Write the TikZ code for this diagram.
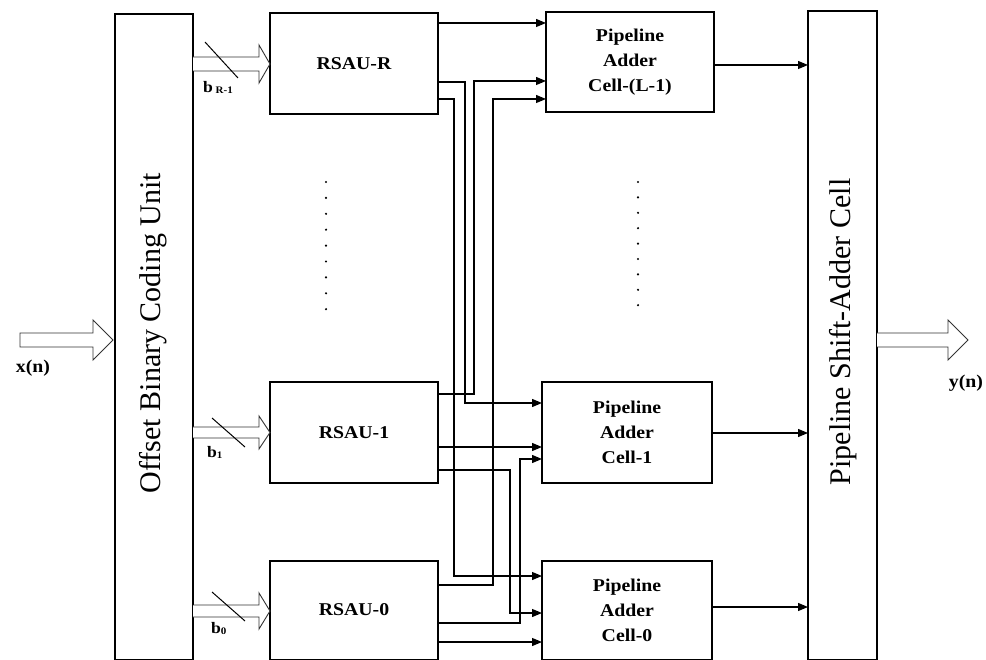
\documentclass[tikz,border=0pt]{standalone}
\usepackage{fontspec}
\setmainfont{Liberation Serif}
\newfontfamily\wideserif[FakeStretch=1.1]{Liberation Serif}
\usetikzlibrary{arrows.meta}
\begin{document}
\begin{tikzpicture}[x=1pt,y=-1pt,
  blk/.style={draw, line width=1.2pt, inner sep=0pt, outer sep=0pt},
  wire/.style={line width=1.2pt},
  arr/.style={wire, -{Triangle[length=10pt,width=8pt]}},
  fat/.style={line width=0.9pt, draw=black!80, fill=white, line join=miter},
  slash/.style={line width=1pt},
  lbl/.style={font=\wideserif\bfseries\fontsize{18}{25}\selectfont, align=center},
  big/.style={font=\fontsize{30}{30}\selectfont, inner sep=0pt},
  io/.style={font=\wideserif\bfseries\fontsize{18}{18}\selectfont, inner sep=0pt},
  bl/.style={font=\wideserif\bfseries\fontsize{16}{16}\selectfont, inner sep=0pt},
]
\useasboundingbox (0,0) rectangle (986,660);
\clip (0,0) rectangle (986,660);

% blocks
\node[blk, minimum width=78, minimum height=646] (obcu) at (154,337) {};
\node[big, rotate=90] (obcut) at (153,333) {Offset Binary Coding Unit};
\node[blk, minimum width=69, minimum height=649] (psac) at (842.5,335.5) {};
\node[big, rotate=90] (psact) at (843,332) {Pipeline Shift-Adder Cell};

\node[blk, lbl, minimum width=168, minimum height=101] (rsauR) at (354,63.5) {RSAU-R};
\node[blk, lbl, minimum width=168, minimum height=101] (rsau1) at (354,432.5) {RSAU-1};
\node[blk, lbl, minimum width=168, minimum height=99] (rsau0) at (354,610.5) {\raisebox{1pt}{RSAU-0}};

\node[blk, lbl, minimum width=168, minimum height=100] (pacL) at (630,62) {Pipeline\\Adder\\Cell-(L-1)};
\node[blk, lbl, minimum width=170, minimum height=101] (pac1) at (627,432.5) {Pipeline\\Adder\\Cell-1};
\node[blk, lbl, minimum width=170, minimum height=99] (pac0) at (627,610.5) {Pipeline\\Adder\\Cell-0};

% dotted columns
\foreach \i in {0,...,8} {
  \fill (326,182+15.9*\i) circle (1.2);
  \fill (638,182+15.4*\i) circle (1.2);
}

% wide input arrows with bus slashes
\draw[fat] (obcu.east |- 0,57) -- (259,57) -- (259,45) -- (rsauR.west |- 0,64) -- (259,83) -- (259,71) -- (obcu.east |- 0,71);
\draw[slash] (205,42) -- (238,78);
\node[bl, anchor=west] (bR) at (203,87) {b\,\raisebox{-1pt}{\fontsize{10}{10}\selectfont R-1}};

\draw[fat] (obcu.east |- 0,427) -- (259,427) -- (259,416) -- (rsau1.west |- 0,432.5) -- (259,449) -- (259,438) -- (obcu.east |- 0,438);
\draw[slash] (212,418) -- (245,447);
\node[bl, anchor=west] (b1) at (207,452) {b\raisebox{-1pt}{\fontsize{10}{10}\selectfont 1}};

\draw[fat] (obcu.east |- 0,605) -- (259,605) -- (259,593) -- (rsau0.west |- 0,611) -- (259,629) -- (259,617) -- (obcu.east |- 0,617);
\draw[slash] (212,592) -- (245,621);
\node[bl, anchor=west] (b0) at (211,628) {b\raisebox{-1pt}{\fontsize{10}{10}\selectfont 0}};

% x(n) and y(n)
\draw[fat] (20,333) -- (93,333) -- (93,320) -- (113,340) -- (93,360) -- (93,347) -- (20,347) -- cycle;
\node[io] (xn) at (33,368) {x(n)};
\draw[fat] (psac.east |- 0,333) -- (948,333) -- (948,320) -- (968,340) -- (948,360) -- (948,347) -- (psac.east |- 0,347);
\node[io] (yn) at (966,383) {y(n)};

% RSAU-R outputs
\draw[arr] (rsauR.east |- 0,23) -- (pacL.west |- 0,23);
\draw[arr] (rsauR.east |- 0,82) -- (465,82) -- (465,403) -- (pac1.west |- 0,403);
\draw[arr] (rsauR.east |- 0,99) -- (454,99) -- (454,576) -- (pac0.west |- 0,576);
% RSAU-1 outputs
\draw[arr] (rsau1.east |- 0,394) -- (474,394) -- (474,81) -- (pacL.west |- 0,81);
\draw[arr] (rsau1.east |- 0,447) -- (pac1.west |- 0,447);
\draw[arr] (rsau1.east |- 0,470) -- (510,470) -- (510,613) -- (pac0.west |- 0,613);
% RSAU-0 outputs
\draw[arr] (rsau0.east |- 0,585) -- (493,585) -- (493,99) -- (pacL.west |- 0,99);
\draw[arr] (rsau0.east |- 0,623) -- (520,623) -- (520,459) -- (pac1.west |- 0,459);
\draw[arr] (rsau0.east |- 0,642) -- (pac0.west |- 0,642);

% adder cells to shift-adder
\draw[arr] (pacL.east |- 0,65) -- (psac.west |- 0,65);
\draw[arr] (pac1.east |- 0,433) -- (psac.west |- 0,433);
\draw[arr] (pac0.east |- 0,607) -- (psac.west |- 0,607);
\end{tikzpicture}
\end{document}
